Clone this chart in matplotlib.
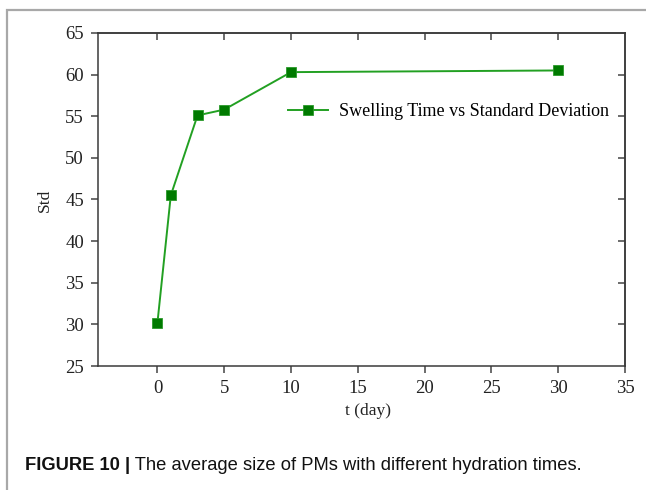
import matplotlib.pyplot as plt
from matplotlib.patches import Rectangle

# swelling time (days) vs standard deviation of particle size
days = [0, 1, 3, 5, 10, 30]
std_vals = [30.2, 45.5, 55.1, 55.8, 60.3, 60.5]
x_ticks = [0, 5, 10, 15, 20, 25, 30, 35]
y_ticks = [25, 30, 35, 40, 45, 50, 55, 60, 65]
series_name = "Swelling Time vs Standard Deviation"
caption_bold = "FIGURE 10 |"
caption_rest = " The average size of PMs with different hydration times."

W, H = 646, 490
fig = plt.figure(figsize=(W / 100, H / 100), dpi=100)

# grey page frame
fig.patches.append(Rectangle((7 / W, -0.1), 1.0, 1 - 10 / H + 0.1, transform=fig.transFigure,
                             fill=False, edgecolor='#a8a8a8', lw=1.6))

ax = fig.add_axes([98 / W, (H - 366) / H, 527 / W, 333 / H])
ax.plot(days, std_vals, color='#22a022', lw=1.4, marker='s', markersize=7,
        markerfacecolor='#007a00', markeredgecolor='#2a9a2a', markeredgewidth=0.6,
        label=series_name, zorder=3)

ax.set_xlim(-4.45, 35)
ax.set_ylim(25, 65)

serif = 'Liberation Serif'
ax.set_xticks(x_ticks)
ax.set_yticks(y_ticks)
ax.set_xticklabels([str(v) for v in x_ticks], family=serif, fontsize=13.5, color='#222222')
ax.set_yticklabels([str(v) for v in y_ticks], family=serif, fontsize=13.5, color='#222222')
ax.tick_params(axis='both', direction='out', length=5, width=1.1, color='#444444', pad=5)

# inward ticks on top and right
top = ax.secondary_xaxis('top')
top.set_xticks(x_ticks[:-1])
top.tick_params(direction='in', length=5, width=1.1, color='#444444', labeltop=False)
right = ax.secondary_yaxis('right')
right.set_yticks(y_ticks[1:-1])
right.tick_params(direction='in', length=5, width=1.1, color='#444444', labelright=False)
for a in (ax, top, right):
    for s in a.spines.values():
        s.set_color('#3a3a3a')
        s.set_linewidth(1.1)

ax.set_xlabel("t (day)", family=serif, fontsize=12.5, color='#222222')
ax.set_ylabel("Std", family=serif, fontsize=12.5, color='#222222')
ax.xaxis.set_label_coords((368 - 98) / 527, -(411 - 366) / 333)
ax.yaxis.set_label_coords(-(98 - 45) / 527, (366 - 200) / 333)
ax.xaxis.label.set_va('center')
ax.yaxis.label.set_va('center')

ax.legend(loc='center left', bbox_to_anchor=(0.33, 0.763), frameon=False,
          prop={'family': serif, 'size': 13}, handlelength=2.2, handletextpad=0.6)

fig.text(25 / W, 1 - 465 / H, caption_bold, family='Liberation Sans', weight='bold',
         fontsize=13.2, va='center', ha='left', color='#111111')
fig.canvas.draw()
bb = fig.texts[-1].get_window_extent()
fig.text(bb.x1 / W, 1 - 465 / H, caption_rest, family='Liberation Sans',
         fontsize=13.2, va='center', ha='left', color='#111111')

fig.savefig('out.png', dpi=100)
